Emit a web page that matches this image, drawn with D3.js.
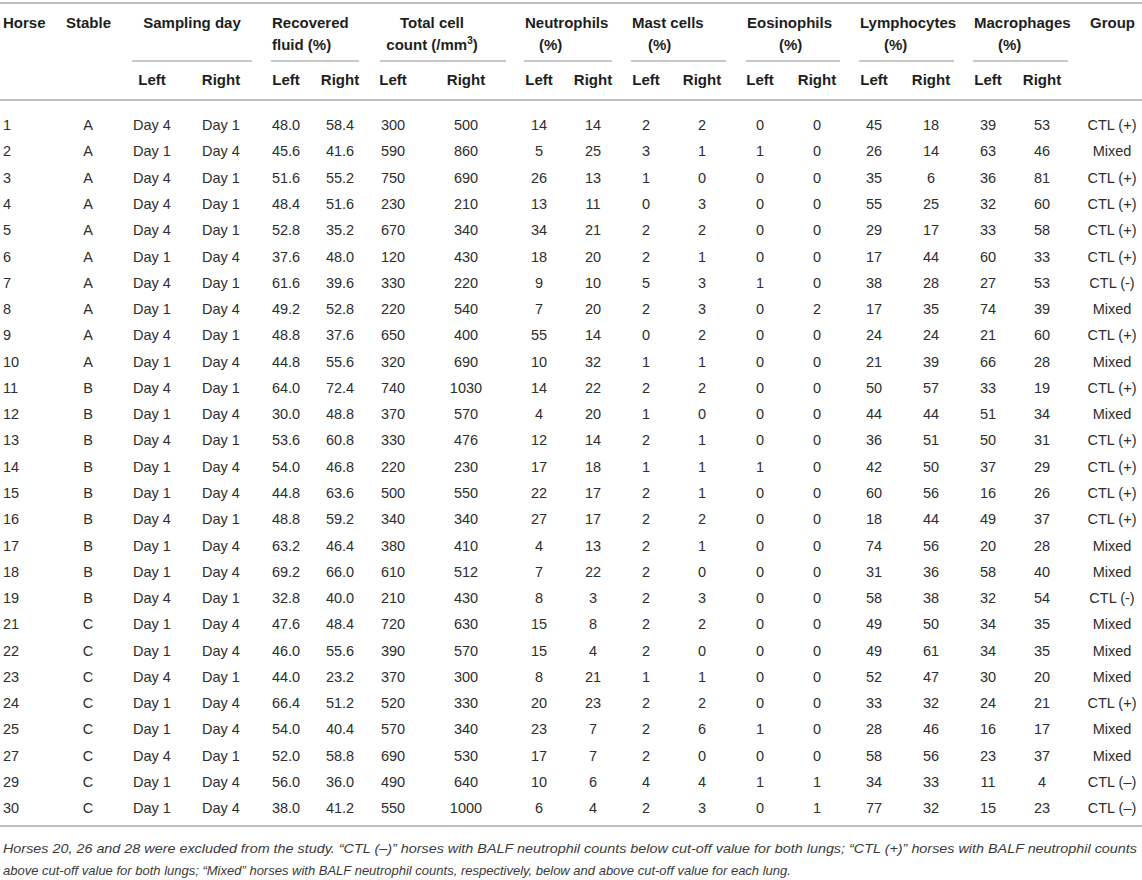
<!DOCTYPE html>
<html>
<head>
<meta charset="utf-8">
<script src="https://cdn.jsdelivr.net/npm/d3@7"></script>
<style>
  body { margin: 0; background: #fff; }
  svg text { font-family: "Liberation Sans", Arial, Helvetica, sans-serif; }
</style>
</head>
<body>
<svg id="table" width="1142" height="880"></svg>
<script>
const horses = [1, 2, 3, 4, 5, 6, 7, 8, 9, 10, 11, 12, 13, 14, 15, 16, 17, 18, 19, 21, 22, 23, 24, 25, 27, 29, 30];
const stables = ["A","A","A","A","A","A","A","A","A","A","B","B","B","B","B","B","B","B","B","C","C","C","C","C","C","C","C"];
const dayLeft = [4,1,4,4,4,1,4,1,4,1,4,1,4,1,1,4,1,1,4,1,1,4,1,1,4,1,1];
const dayRight = [1,4,1,1,1,4,1,4,1,4,1,4,1,4,4,1,4,4,1,4,4,1,4,4,1,4,4];
const fluidLeft = [48.0,45.6,51.6,48.4,52.8,37.6,61.6,49.2,48.8,44.8,64.0,30.0,53.6,54.0,44.8,48.8,63.2,69.2,32.8,47.6,46.0,44.0,66.4,54.0,52.0,56.0,38.0];
const fluidRight = [58.4,41.6,55.2,51.6,35.2,48.0,39.6,52.8,37.6,55.6,72.4,48.8,60.8,46.8,63.6,59.2,46.4,66.0,40.0,48.4,55.6,23.2,51.2,40.4,58.8,36.0,41.2];
const countLeft = [300,590,750,230,670,120,330,220,650,320,740,370,330,220,500,340,380,610,210,720,390,370,520,570,690,490,550];
const countRight = [500,860,690,210,340,430,220,540,400,690,1030,570,476,230,550,340,410,512,430,630,570,300,330,340,530,640,1000];
const neutLeft = [14,5,26,13,34,18,9,7,55,10,14,4,12,17,22,27,4,7,8,15,15,8,20,23,17,10,6];
const neutRight = [14,25,13,11,21,20,10,20,14,32,22,20,14,18,17,17,13,22,3,8,4,21,23,7,7,6,4];
const mastLeft = [2,3,1,0,2,2,5,2,0,1,2,1,2,1,2,2,2,2,2,2,2,1,2,2,2,4,2];
const mastRight = [2,1,0,3,2,1,3,3,2,1,2,0,1,1,1,2,1,0,3,2,0,1,2,6,0,4,3];
const eosLeft = [0,1,0,0,0,0,1,0,0,0,0,0,0,1,0,0,0,0,0,0,0,0,0,1,0,1,0];
const eosRight = [0,0,0,0,0,0,0,2,0,0,0,0,0,0,0,0,0,0,0,0,0,0,0,0,0,1,1];
const lymphLeft = [45,26,35,55,29,17,38,17,24,21,50,44,36,42,60,18,74,31,58,49,49,52,33,28,58,34,77];
const lymphRight = [18,14,6,25,17,44,28,35,24,39,57,44,51,50,56,44,56,36,38,50,61,47,32,46,56,33,32];
const macroLeft = [39,63,36,32,33,60,27,74,21,66,33,51,50,37,16,49,20,58,32,34,34,30,24,16,23,11,15];
const macroRight = [53,46,81,60,58,33,53,39,60,28,19,34,31,29,26,37,28,40,54,35,35,20,21,17,37,4,23];
const groups = ["CTL (+)","Mixed","CTL (+)","CTL (+)","CTL (+)","CTL (+)","CTL (-)","Mixed","CTL (+)","Mixed","CTL (+)","Mixed","CTL (+)","CTL (+)","CTL (+)","CTL (+)","Mixed","Mixed","CTL (-)","Mixed","Mixed","Mixed","CTL (+)","Mixed","Mixed","CTL (–)","CTL (–)"];

const headerGroups = ["Sampling day", "Recovered fluid (%)", "Total cell count (/mm³)", "Neutrophils (%)",
  "Mast cells (%)", "Eosinophils (%)", "Lymphocytes (%)", "Macrophages (%)"];
const sides = ["Left", "Right"];
const footnote = [
  "Horses 20, 26 and 28 were excluded from the study. “CTL (–)” horses with BALF neutrophil counts below cut-off value for both lungs; “CTL (+)” horses with BALF neutrophil counts",
  "above cut-off value for both lungs; “Mixed” horses with BALF neutrophil counts, respectively, below and above cut-off value for each lung."
];

// ---- layout ----
const W = 1142;
const svg = d3.select("#table");
const fmt1 = d3.format(".1f");
const day = d => "Day " + d;

const columns = [
  { key: "stable", values: stables, f: String },
  { key: "dayL", values: dayLeft, f: day }, { key: "dayR", values: dayRight, f: day },
  { key: "fluidL", values: fluidLeft, f: fmt1 }, { key: "fluidR", values: fluidRight, f: fmt1 },
  { key: "countL", values: countLeft, f: String }, { key: "countR", values: countRight, f: String },
  { key: "neutL", values: neutLeft, f: String }, { key: "neutR", values: neutRight, f: String },
  { key: "mastL", values: mastLeft, f: String }, { key: "mastR", values: mastRight, f: String },
  { key: "eosL", values: eosLeft, f: String }, { key: "eosR", values: eosRight, f: String },
  { key: "lymphL", values: lymphLeft, f: String }, { key: "lymphR", values: lymphRight, f: String },
  { key: "macroL", values: macroLeft, f: String }, { key: "macroR", values: macroRight, f: String },
  { key: "group", values: groups, f: String }
];

// column centres
const x = d3.scaleOrdinal()
  .domain(columns.map(c => c.key))
  .range([88, 152, 221, 286, 340, 393, 466, 539, 593, 646, 702, 760, 817, 874, 931, 988, 1042, 1112]);

// row positions
const y = d3.scalePoint().domain(horses).range([125, 808]);

// spans of the grouped headers (start/end of the thin rule)
const span = d3.scaleOrdinal()
  .domain(headerGroups)
  .range([[132, 252], [271, 359], [380, 506], [524, 612], [631, 726], [746, 840], [859, 954], [973, 1068]]);

const ruleColor = "#bdbdbd";

// main rules
svg.append("line").attr("x1", 0).attr("x2", W).attr("y1", 3).attr("y2", 3)
  .attr("stroke", ruleColor).attr("stroke-width", 2);
svg.append("line").attr("x1", 0).attr("x2", W).attr("y1", 100).attr("y2", 100)
  .attr("stroke", "#a8a8a8").attr("stroke-width", 1.5);
svg.append("line").attr("x1", 0).attr("x2", W).attr("y1", 826).attr("y2", 826)
  .attr("stroke", ruleColor).attr("stroke-width", 2);

// header
const head = svg.append("g").attr("font-weight", "bold").attr("font-size", 15).attr("fill", "#1e1e1e");
head.append("text").attr("x", 3).attr("y", 23).attr("dy", "0.36em").text("Horse");
head.append("text").attr("x", 66).attr("y", 23).attr("dy", "0.36em").text("Stable");

const hg = head.selectAll("g.hg").data(headerGroups).join("g").attr("class", "hg");
hg.append("line")
  .attr("x1", d => span(d)[0]).attr("x2", d => span(d)[1])
  .attr("y1", 61).attr("y2", 61)
  .attr("stroke", "#c8c8c8").attr("stroke-width", 2);

hg.each(function (d, i) {
  const g = d3.select(this);
  const [a, b] = span(d);
  const mid = (a + b) / 2;
  if (i === 0) {
    g.append("text").attr("x", mid).attr("y", 23).attr("dy", "0.36em").attr("text-anchor", "middle").text(d);
  } else if (i === 1) {
    g.append("text").attr("x", a + 1).attr("y", 23).attr("dy", "0.36em").text("Recovered");
    g.append("text").attr("x", a + 1).attr("y", 45).attr("dy", "0.36em").text("fluid (%)");
  } else if (i === 2) {
    g.append("text").attr("x", mid - 11).attr("y", 23).attr("dy", "0.36em").attr("text-anchor", "middle").text("Total cell");
    const t = g.append("text").attr("x", mid - 11).attr("y", 45).attr("dy", "0.36em").attr("text-anchor", "middle");
    t.append("tspan").text("count (/mm");
    t.append("tspan").attr("font-size", 10).attr("dy", "-0.6em").text("3");
    t.append("tspan").attr("dy", "0.35em").text(")");
  } else {
    const name = d.replace(" (%)", "");
    const pctShift = [14, 16, 32, 24, 24][i - 3];
    g.append("text").attr("x", a + 1).attr("y", 23).attr("dy", "0.36em").text(name);
    g.append("text").attr("x", a + 1 + pctShift).attr("y", 45).attr("dy", "0.36em").text("(%)");
  }
});
head.append("text").attr("x", 1090).attr("y", 23).attr("dy", "0.36em").text("Group");

// Left / Right sub headers
const subKeys = columns.map(c => c.key).filter(k => k !== "stable" && k !== "group");
head.selectAll("text.sub").data(subKeys).join("text")
  .attr("class", "sub")
  .attr("x", k => x(k)).attr("y", 80).attr("dy", "0.36em")
  .attr("text-anchor", "middle")
  .text((k, i) => sides[i % 2]);

// body
const body = svg.append("g").attr("font-size", 14.5).attr("fill", "#2e2e2e");
body.selectAll("text.horse").data(horses).join("text")
  .attr("class", "horse")
  .attr("x", 3).attr("y", d => y(d)).attr("dy", "0.36em")
  .text(d => d);

columns.forEach(col => {
  body.append("g").selectAll("text").data(col.values).join("text")
    .attr("x", x(col.key))
    .attr("y", (v, i) => y(horses[i])).attr("dy", "0.36em")
    .attr("text-anchor", "middle")
    .text(v => col.f(v));
});

// footnote
const foot = svg.append("g").attr("font-size", 13).attr("font-style", "italic").attr("fill", "#3a3a3a");
foot.selectAll("text").data(footnote).join("text")
  .attr("x", 3).attr("y", (d, i) => 848 + i * 22).attr("dy", "0.36em")
  .attr("textLength", (d, i) => i === 0 ? 1134 : null)
  .attr("lengthAdjust", "spacingAndGlyphs")
  .text(d => d);
</script>
</body>
</html>
